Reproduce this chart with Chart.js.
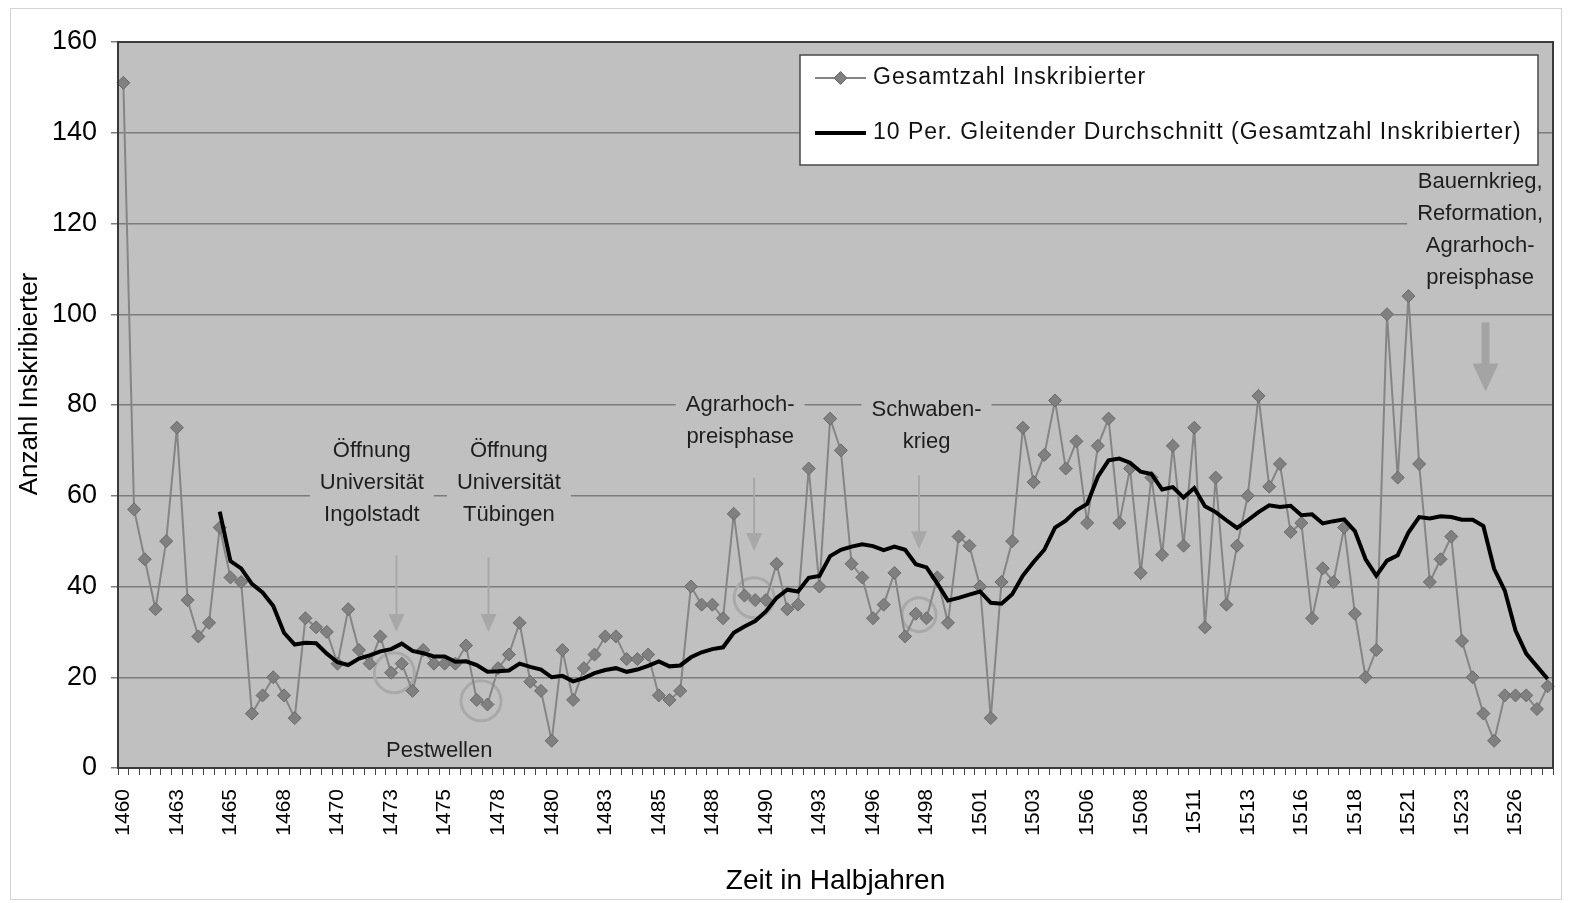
<!DOCTYPE html>
<html>
<head>
<meta charset="utf-8">
<script src="https://cdn.jsdelivr.net/npm/chart.js@4.4.0/dist/chart.umd.min.js"></script>
<style>
html,body{margin:0;padding:0;background:#fff;}
#wrap{width:1570px;height:903px;position:relative;}
</style>
</head>
<body>
<div id="wrap"><canvas id="c" width="1570" height="903"></canvas></div>
<script>
// ---- data ----
const tickLabels = ['1460','1463','1465','1468','1470','1473','1475','1478','1480','1483','1485','1488','1490','1493','1496','1498','1501','1503','1506','1508','1511','1513','1516','1518','1521','1523','1526'];

const enrolled = [
  151, 57, 46, 35, 50, 75, 37, 29, 32, 53,
   42, 41, 12, 16, 20, 16, 11, 33, 31, 30,
   23, 35, 26, 23, 29, 21, 23, 17, 26, 23,
   23, 23, 27, 15, 14, 22, 25, 32, 19, 17,
    6, 26, 15, 22, 25, 29, 29, 24, 24, 25,
   16, 15, 17, 40, 36, 36, 33, 56, 38, 37,
   37, 45, 35, 36, 66, 40, 77, 70, 45, 42,
   33, 36, 43, 29, 34, 33, 42, 32, 51, 49,
   40, 11, 41, 50, 75, 63, 69, 81, 66, 72,
   54, 71, 77, 54, 66, 43, 64, 47, 71, 49,
   75, 31, 64, 36, 49, 60, 82, 62, 67, 52,
   54, 33, 44, 41, 53, 34, 20, 26, 100, 64,
  104, 67, 41, 46, 51, 28, 20, 12, 6, 16,
   16, 16, 13, 18
];

const movingAvg = [
  null, null, null, null, null, null, null, null, null, 56.5,
  45.6, 44.0, 40.6, 38.7, 35.7, 29.8, 27.2, 27.6, 27.5, 25.2,
  23.3, 22.7, 24.1, 24.8, 25.7, 26.2, 27.4, 25.8, 25.3, 24.6,
  24.6, 23.4, 23.5, 22.7, 21.2, 21.3, 21.5, 23.0, 22.3, 21.7,
  20.0, 20.3, 19.1, 19.8, 20.9, 21.6, 22.0, 21.2, 21.7, 22.5,
  23.5, 22.4, 22.6, 24.4, 25.5, 26.2, 26.6, 29.8, 31.2, 32.4,
  34.5, 37.5, 39.3, 38.9, 41.9, 42.3, 46.7, 48.1, 48.8, 49.3,
  48.9, 48.0, 48.8, 48.1, 44.9, 44.2, 40.7, 36.9, 37.5, 38.2,
  38.9, 36.4, 36.2, 38.3, 42.4, 45.4, 48.1, 53.0, 54.5, 56.8,
  58.2, 64.2, 67.8, 68.2, 67.3, 65.3, 64.8, 61.4, 61.9, 59.6,
  61.7, 57.7, 56.4, 54.6, 52.9, 54.6, 56.4, 57.9, 57.5, 57.8,
  55.7, 55.9, 53.9, 54.4, 54.8, 52.2, 46.0, 42.4, 45.7, 46.9,
  51.9, 55.3, 55.0, 55.5, 55.3, 54.7, 54.7, 53.3, 43.9, 39.1,
  30.3, 25.2, 22.4, 19.6
];

const seriesNames = ['Gesamtzahl Inskribierter', '10 Per. Gleitender Durchschnitt (Gesamtzahl Inskribierter)'];
const axisTitles = { x: 'Zeit in Halbjahren', y: 'Anzahl Inskribierter' };
const yRange = { min: 0, max: 160, step: 20 };

// annotations placed in data space (category index, value)
const textNotes = [
  { i: 23.2, v: 62.9, lines: ['Öffnung', 'Universität', 'Ingolstadt'] },
  { i: 36.0, v: 62.9, lines: ['Öffnung', 'Universität', 'Tübingen'] },
  { i: 57.6, v: 76.5, lines: ['Agrarhoch-', 'preisphase'] },
  { i: 75.0, v: 75.4, lines: ['Schwaben-', 'krieg'] },
  { i: 126.7, v: 118.5, lines: ['Bauernkrieg,', 'Reformation,', 'Agrarhoch-', 'preisphase'] },
  { i: 29.5, v: 3.8, lines: ['Pestwellen'], noBox: true }
];
const arrowNotes = [
  { i: 25.5, from: 46.8, to: 30.0, thick: false },
  { i: 34.1, from: 46.4, to: 30.0, thick: false },
  { i: 58.9, from: 64.0, to: 47.8, thick: false },
  { i: 74.3, from: 64.5, to: 48.2, thick: false },
  { i: 127.2, from: 98.2, to: 83.0, thick: true }
];
const circleNotes = [
  { i: 25.3, v: 21.0, r: 20 },
  { i: 33.4, v: 14.8, r: 20 },
  { i: 58.9, v: 37.5, r: 20 },
  { i: 74.3, v: 33.8, r: 17 }
];

const categories = enrolled.map((_, k) => (k % 5 === 0 ? tickLabels[k / 5] : ''));

// ---- styling ----
const FONT = '"Liberation Sans", Arial, Helvetica, sans-serif';
const PLOT_BG = '#c0c0c0';

const decor = {
  id: 'decor',
  beforeDraw(chart) {
    const { ctx, chartArea: ca, width, height } = chart;
    ctx.save();
    ctx.fillStyle = '#fff';
    ctx.fillRect(0, 0, width, height);
    ctx.strokeStyle = '#d4d4d4';
    ctx.lineWidth = 1;
    ctx.strokeRect(10.5, 8.5, width - 19, height - 12);
    ctx.fillStyle = PLOT_BG;
    ctx.fillRect(ca.left, ca.top, ca.right - ca.left, ca.bottom - ca.top);
    ctx.restore();
  },
  beforeDatasetsDraw(chart) {
    const { ctx, scales: { x, y } } = chart;
    ctx.save();
    // circles
    ctx.strokeStyle = '#a9a9a9';
    ctx.lineWidth = 3;
    for (const c of circleNotes) {
      ctx.beginPath();
      ctx.arc(x.getPixelForValue(c.i), y.getPixelForValue(c.v), c.r, 0, Math.PI * 2);
      ctx.stroke();
    }
    // arrows
    for (const a of arrowNotes) {
      const px = x.getPixelForValue(a.i);
      const y1 = y.getPixelForValue(a.from), y2 = y.getPixelForValue(a.to);
      const shaft = a.thick ? 8 : 2, headW = a.thick ? 26 : 16, headL = a.thick ? 28 : 18;
      const col = a.thick ? '#a4a4a4' : '#a8a8a8';
      ctx.strokeStyle = col;
      ctx.lineWidth = shaft;
      ctx.beginPath();
      ctx.moveTo(px, y1);
      ctx.lineTo(px, y2 - headL + 2);
      ctx.stroke();
      ctx.fillStyle = col;
      ctx.beginPath();
      ctx.moveTo(px - headW / 2, y2 - headL);
      ctx.lineTo(px + headW / 2, y2 - headL);
      ctx.lineTo(px, y2);
      ctx.closePath();
      ctx.fill();
    }
    // text notes with plot-coloured boxes
    ctx.font = '22px ' + FONT;
    ctx.textAlign = 'center';
    ctx.textBaseline = 'middle';
    const lh = 32;
    for (const t of textNotes) {
      const cx = x.getPixelForValue(t.i), cy = y.getPixelForValue(t.v);
      const n = t.lines.length;
      const top = cy - (n - 1) * lh / 2;
      if (!t.noBox) {
        let w = 0;
        for (const l of t.lines) w = Math.max(w, ctx.measureText(l).width);
        ctx.fillStyle = PLOT_BG;
        ctx.fillRect(cx - w / 2 - 10, top - lh / 2, w + 20, n * lh);
      }
      ctx.fillStyle = '#1e1e1e';
      t.lines.forEach((l, k) => ctx.fillText(l, cx, top + k * lh));
    }
    ctx.restore();
  },
  afterDatasetsDraw(chart) {
    const { ctx, chartArea: ca } = chart;
    ctx.save();
    ctx.strokeStyle = '#3a3a3a';
    ctx.lineWidth = 2;
    ctx.strokeRect(ca.left, ca.top, ca.right - ca.left, ca.bottom - ca.top);
    ctx.restore();
  },
  afterDraw(chart) {
    const { ctx, chartArea: ca } = chart;
    const ds = chart.data.datasets;
    ctx.save();
    // legend
    const bx = ca.right - 753, by = ca.top + 13, bw = 738, bh = 110;
    ctx.fillStyle = '#fff';
    ctx.fillRect(bx, by, bw, bh);
    ctx.strokeStyle = '#4a4a4a';
    ctx.lineWidth = 1.5;
    ctx.strokeRect(bx, by, bw, bh);
    const rows = [by + 23, by + 78];
    const lx1 = bx + 15, lx2 = bx + 66;
    // row 1: grey line with diamond
    ctx.strokeStyle = ds[0].borderColor;
    ctx.lineWidth = ds[0].borderWidth;
    ctx.beginPath(); ctx.moveTo(lx1, rows[0]); ctx.lineTo(lx2, rows[0]); ctx.stroke();
    const r = ds[0].pointRadius, cxm = (lx1 + lx2) / 2;
    ctx.fillStyle = ds[0].pointBackgroundColor;
    ctx.beginPath();
    ctx.moveTo(cxm - r, rows[0]); ctx.lineTo(cxm, rows[0] - r); ctx.lineTo(cxm + r, rows[0]); ctx.lineTo(cxm, rows[0] + r); ctx.closePath();
    ctx.fill();
    ctx.strokeStyle = ds[0].pointBorderColor; ctx.lineWidth = 1; ctx.stroke();
    // row 2: black line
    ctx.strokeStyle = ds[1].borderColor;
    ctx.lineWidth = ds[1].borderWidth;
    ctx.beginPath(); ctx.moveTo(lx1, rows[1]); ctx.lineTo(lx2, rows[1]); ctx.stroke();
    ctx.fillStyle = '#111';
    ctx.font = '23px ' + FONT;
    ctx.letterSpacing = '1px';
    ctx.textAlign = 'left';
    ctx.textBaseline = 'middle';
    ctx.fillText(seriesNames[0], bx + 73, rows[0]);
    ctx.fillText(seriesNames[1], bx + 73, rows[1]);
    ctx.letterSpacing = '0px';
    // y axis title
    ctx.translate(30, (ca.top + ca.bottom) / 2 - 21);
    ctx.rotate(-Math.PI / 2);
    ctx.font = '26px ' + FONT;
    ctx.textAlign = 'center';
    ctx.fillStyle = '#000';
    ctx.fillText(axisTitles.y, 0, 0);
    ctx.restore();
  }
};

new Chart(document.getElementById('c'), {
  type: 'line',
  data: {
    labels: categories,
    datasets: [
      {
        label: seriesNames[0],
        data: enrolled,
        borderColor: '#858585',
        borderWidth: 2,
        pointStyle: 'rectRot',
        pointRadius: 6.5,
        pointBackgroundColor: '#808080',
        pointBorderColor: '#6a6a6a',
        pointBorderWidth: 1,
        tension: 0,
        order: 1
      },
      {
        label: seriesNames[1],
        data: movingAvg,
        borderColor: '#000000',
        borderWidth: 4,
        pointRadius: 0,
        tension: 0,
        spanGaps: false,
        order: 0
      }
    ]
  },
  options: {
    responsive: false,
    animation: false,
    devicePixelRatio: 1,
    layout: { padding: { top: 42, right: 17, left: 0, bottom: 0 } },
    plugins: { legend: { display: false }, tooltip: { enabled: false }, title: { display: false } },
    scales: {
      x: {
        type: 'category',
        offset: true,
        grid: { display: true, drawOnChartArea: false, drawTicks: true, tickLength: 7, color: '#444', lineWidth: 1, offset: true },
        border: { display: true, color: '#000', width: 2 },
        ticks: {
          autoSkip: false, maxRotation: 90, minRotation: 90, padding: 14,
          font: { size: 21, family: FONT }, color: '#000'
        },
        title: { display: true, text: axisTitles.x, font: { size: 28, family: FONT }, color: '#000', padding: { top: 0, bottom: 5 } },
        afterFit: s => { s.height = 135; s.paddingLeft = 0; s.paddingRight = 0; }
      },
      y: {
        min: yRange.min, max: yRange.max,
        ticks: { stepSize: yRange.step, padding: 14, font: { size: 27, family: FONT }, color: '#000' },
        grid: { color: '#7c7c7c', lineWidth: 1.5, tickLength: 7, drawTicks: true },
        border: { display: true, color: '#000', width: 2 },
        afterFit: s => { s.width = 118; }
      }
    }
  },
  plugins: [decor]
});
</script>
</body>
</html>
